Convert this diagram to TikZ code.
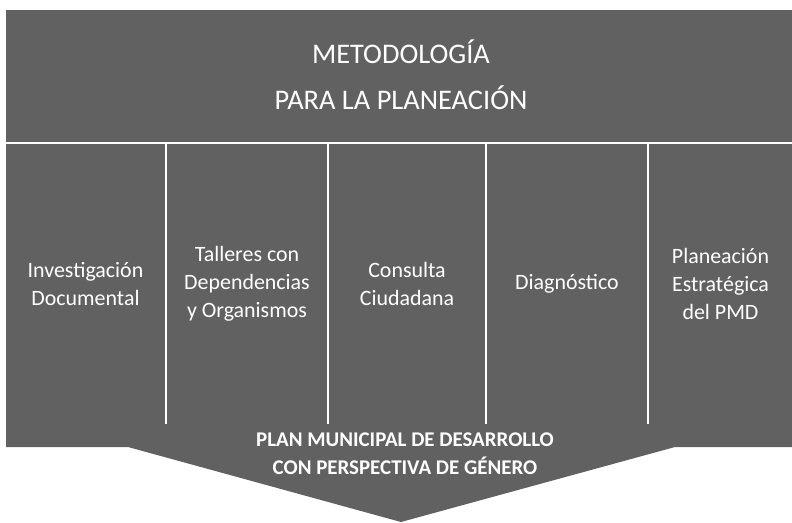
\documentclass[tikz,border=0pt]{standalone}
\usepackage{fontspec}
\setmainfont{Carlito}
\usepackage{tikz}

\begin{document}
\begin{tikzpicture}[x=1bp,y=-1bp,
    hnode/.style={fill=black!62, draw=none, text=white, inner sep=0pt, align=center},
    cnode/.style={fill=black!62, draw=none, text=white, inner sep=0pt, align=center, minimum height=280bp, font=\fontsize{22}{28}\selectfont}]
    \useasboundingbox (0,0) rectangle (792,523);

    \node[hnode, minimum width=786bp, minimum height=132bp] (head) at (399,76) {};
    \node[text=white, align=center, inner sep=0pt, font=\fontsize{28.5}{46}\selectfont] (title) at (401,75) {METODOLOGÍA\\PARA LA PLANEACIÓN};

    \node[cnode, minimum width=159bp] (c1) at (85.5,284) {Investigación\\Documental};
    \node[cnode, minimum width=160bp] (c2) at (247,284) {Talleres con\\Dependencias\\y Organismos};
    \node[cnode, minimum width=156bp] (c3) at (407,284) {Consulta\\Ciudadana};
    \node[cnode, minimum width=160bp] (c4) at (567,284) {Diagnóstico};
    \node[cnode, minimum width=143bp] (c5) at (720.5,284) {Planeación\\Estratégica\\del PMD};

    \coordinate (tip) at (401,522);
    \fill[black!62] (6,424) -- (792,424) -- (792,447) -- (675,447) -- (tip) -- (128,447) -- (6,447) -- cycle;
    \node[text=white, align=center, inner sep=0pt, font=\bfseries\fontsize{21}{28}\selectfont] (plan) at (405,454) {PLAN MUNICIPAL DE DESARROLLO\\CON PERSPECTIVA DE GÉNERO};
\end{tikzpicture}
\end{document}
